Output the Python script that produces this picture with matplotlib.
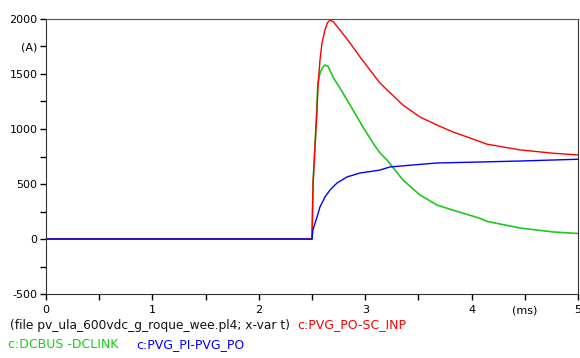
import matplotlib
matplotlib.use("Agg")
import matplotlib.pyplot as plt

plt.rcParams["font.family"] = "DejaVu Sans"

# время, мс, и токи, А
t_red = [0, 2.5, 2.51, 2.53, 2.547, 2.556, 2.575, 2.594, 2.622, 2.645, 2.669,
         2.70, 2.763, 2.857, 2.951, 3.045, 3.139, 3.205, 3.355, 3.515, 3.675,
         3.825, 3.985, 4.145, 4.455, 4.765, 5.0]
i_red = [0, 0, 509, 873, 1173, 1382, 1627, 1782, 1900, 1965, 1990,
         1975, 1900, 1782, 1655, 1536, 1418, 1355, 1218, 1109, 1036,
         973, 918, 862, 810, 780, 764]

t_green = [0, 2.5, 2.51, 2.53, 2.547, 2.556, 2.575, 2.60, 2.622, 2.65, 2.697,
           2.791, 2.885, 2.979, 3.073, 3.139, 3.205, 3.355, 3.515, 3.675, 3.825,
           4.079, 4.145, 4.455, 4.765, 5.0]
i_green = [0, 0, 509, 873, 1236, 1418, 1509, 1560, 1582, 1570, 1473,
           1327, 1173, 1018, 873, 782, 718, 536, 400, 309, 262,
           188, 160, 100, 64, 50]

t_blue = [0, 2.5, 2.509, 2.547, 2.575, 2.622, 2.669, 2.735, 2.829, 2.951, 3.045,
          3.139, 3.233, 3.449, 3.675, 4.079, 4.455, 5.0]
i_blue = [0, 0, 82, 200, 291, 382, 445, 509, 564, 600, 613,
          627, 655, 673, 691, 700, 709, 725]

x_ticks = [0, 0.5, 1, 1.5, 2, 2.5, 3, 3.5, 4, 4.5, 5]
x_labels = ["0", "", "1", "", "2", "", "3", "", "4", "(ms)", "5"]
y_ticks = [-500, -250, 0, 250, 500, 750, 1000, 1250, 1500, 1750, 2000]
y_labels = ["-500", "", "0", "", "500", "", "1000", "", "1500", "(A)", "2000"]

RED, GREEN, BLUE = "#ff0000", "#1ec81e", "#0000ff"

fig = plt.figure(figsize=(5.8, 3.58), dpi=100)
ax = fig.add_axes([46 / 580, 64 / 358, 532 / 580, 275 / 358])

# порядок как в оригинале: синий поверх
ax.plot(t_green, i_green, color=GREEN, lw=1.2)
ax.plot(t_red, i_red, color=RED, lw=1.0)
ax.plot(t_blue, i_blue, color=BLUE, lw=1.0)

ax.set_xlim(0, 5)
ax.set_ylim(-500, 2000)
ax.set_xticks(x_ticks)
ax.set_xticklabels(x_labels)
ax.set_yticks(y_ticks)
ax.set_yticklabels(y_labels)
ax.tick_params(axis="both", direction="out", length=4, width=1, labelsize=8, pad=2)
ax.tick_params(axis="x", pad=4)
for s in ax.spines.values():
    s.set_color("#333333")
ax.spines["top"].set_color("#555555")

fig.text(10 / 580, 1 - 325 / 358, "(file pv_ula_600vdc_g_roque_wee.pl4; x-var t)",
         fontsize=8.8, va="center", color="#111111")
fig.text(297 / 580, 1 - 325 / 358, "c:PVG_PO-SC_INP", fontsize=9, va="center", color=RED)
fig.text(8 / 580, 1 - 345 / 358, "c:DCBUS -DCLINK", fontsize=9, va="center", color=GREEN)
fig.text(136 / 580, 1 - 345 / 358, "c:PVG_PI-PVG_PO", fontsize=9, va="center", color=BLUE)

fig.savefig("out.png", dpi=100, facecolor="white")
